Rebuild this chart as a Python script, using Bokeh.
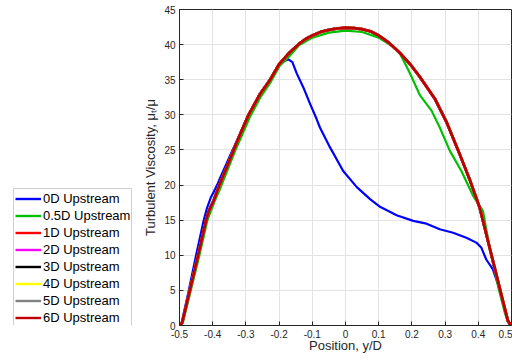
from bokeh.plotting import figure
from bokeh.models import Range1d, FixedTicker, Legend, LegendItem
from bokeh.layouts import row
from bokeh.embed import file_html
from bokeh.resources import INLINE

# ---- data ----
x_ticks = [-0.5, -0.4, -0.3, -0.2, -0.1, 0.0, 0.1, 0.2, 0.3, 0.4, 0.5]
x_tick_labels = ["-0.5", "-0.4", "-0.3", "-0.2", "-0.1", "0", "0.1", "0.2", "0.3", "0.4", "0.5"]
y_ticks = [0, 5, 10, 15, 20, 25, 30, 35, 40, 45]

series_names = ["0D Upstream", "0.5D Upstream", "1D Upstream", "2D Upstream",
                "3D Upstream", "4D Upstream", "5D Upstream", "6D Upstream"]
series_colors = ["#0000FF", "#00C000", "#FF0000", "#FF00FF",
                 "#000000", "#FFFF00", "#808080", "#C00000"]

pos_0d = [-0.5, -0.493, -0.472, -0.45, -0.427, -0.418, -0.412, -0.405, -0.397, -0.385,
          -0.377, -0.34, -0.292, -0.258, -0.228, -0.2, -0.187, -0.172, -0.16, -0.147,
          -0.127, -0.107, -0.087, -0.077, -0.047, -0.007, 0.034, 0.074, 0.104, 0.154,
          0.204, 0.244, 0.284, 0.324, 0.364, 0.394, 0.409, 0.424, 0.444, 0.464, 0.484,
          0.494, 0.5]
visc_0d = [0, 0.5, 5, 10, 15, 16.6, 17.4, 18.3, 19.0, 20.2,
           21.1, 25, 30, 33, 35, 37.2, 37.6, 37.9, 37.5, 35.9,
           33.9, 31.6, 29.4, 28.2, 25.4, 22.0, 19.7, 18.0, 16.9, 15.7,
           14.9, 14.5, 13.7, 13.2, 12.5, 11.8, 11.1, 9.4, 8.0, 5.2, 1.6,
           0.1, 0]

pos_05d = [-0.5, -0.49, -0.466, -0.44, -0.416, -0.395, -0.375, -0.333, -0.288, -0.255,
           -0.225, -0.198, -0.168, -0.14, -0.1, -0.05, 0.0, 0.05, 0.1, 0.14,
           0.164, 0.174, 0.19, 0.204, 0.224, 0.259, 0.284, 0.314, 0.349, 0.384,
           0.414, 0.434, 0.46, 0.48, 0.49, 0.5]
visc_05d = [0, 0.4, 5, 10, 15, 17.6, 19.8, 24.8, 29.7, 32.6,
            34.7, 37.0, 38.4, 39.9, 41.0, 41.7, 42.0, 41.8, 41.0, 39.8,
            38.7, 37.8, 36.3, 34.9, 32.8, 30.6, 28.2, 24.9, 22.0, 18.5,
            16.3, 11.1, 5.5, 1.8, 0.4, 0]

pos_1d_to_6d = [-0.5, -0.492, -0.469, -0.444, -0.42, -0.412, -0.397, -0.38, -0.358, -0.337,
                -0.315, -0.292, -0.257, -0.227, -0.2, -0.185, -0.17, -0.14, -0.12, -0.1,
                -0.075, -0.05, -0.025, 0.0, 0.025, 0.05, 0.075, 0.1, 0.13, 0.164,
                0.195, 0.224, 0.269, 0.304, 0.344, 0.374, 0.404, 0.444,
                0.474, 0.489, 0.497, 0.5]
visc_1d_to_6d = [0, 0.4, 5, 10, 15, 16.3, 17.8, 20, 22.5, 25,
                 27.5, 30, 33, 35, 37.2, 38.0, 38.8, 40.1, 40.8, 41.3,
                 41.8, 42.1, 42.3, 42.4, 42.35, 42.2, 41.9, 41.3, 40.3, 38.8,
                 37.2, 35.4, 32.3, 29.0, 24.4, 20.8, 16.8, 9.2,
                 3.5, 0.7, 0.1, 0]

series_pos = [pos_0d, pos_05d] + [pos_1d_to_6d] * 6
series_visc = [visc_0d, visc_05d] + [visc_1d_to_6d] * 6
series_widths = [2.2, 2.2, 2.6, 2.6, 2.6, 2.6, 2.6, 2.8]

FONT = "Liberation Sans"
TXT = "#262626"

LEG_W = 136
p = figure(width=512 - LEG_W, height=360, output_backend="svg", toolbar_location=None,
           x_range=Range1d(-0.5, 0.5), y_range=Range1d(0, 45),
           min_border_left=179 - LEG_W, min_border_right=1, min_border_top=9,
           min_border_bottom=35)

for name, col, xs, ys, lw in zip(series_names, series_colors, series_pos, series_visc, series_widths):
    p.line(xs, ys, line_color=col, line_width=lw, line_join="round")

p.xaxis.ticker = FixedTicker(ticks=x_ticks)
p.xaxis.major_label_overrides = {t: l for t, l in zip(x_ticks, x_tick_labels)}
p.yaxis.ticker = FixedTicker(ticks=y_ticks)
p.xaxis.axis_label = "Position, y/D"
p.yaxis.axis_label = "Turbulent Viscosity, μₜ/μ"

for ax in (p.xaxis, p.yaxis):
    ax.axis_line_color = TXT
    ax.major_tick_line_color = TXT
    ax.major_tick_in = 4
    ax.major_tick_out = 0
    ax.minor_tick_line_color = None
    ax.major_label_text_font = FONT
    ax.major_label_text_font_size = "10px"
    ax.major_label_text_color = TXT
    ax.axis_label_text_font = FONT
    ax.axis_label_text_font_size = "13px"
    ax.axis_label_text_font_style = "normal"
    ax.axis_label_text_color = TXT
p.xaxis.major_label_standoff = 4
p.yaxis.major_label_standoff = 4
p.xaxis.axis_label_standoff = -3
p.yaxis.axis_label_standoff = 3

p.xgrid.grid_line_color = "#e3e3e3"
p.ygrid.grid_line_color = "#e3e3e3"
p.outline_line_color = TXT
p.outline_line_width = 1
p.background_fill_color = "white"
p.border_fill_color = "white"

# legend panel on the left
lp = figure(width=LEG_W, height=360, output_backend="svg", toolbar_location=None,
            x_range=Range1d(0, 1), y_range=Range1d(0, 1),
            x_axis_location=None, y_axis_location=None,
            min_border_left=0, min_border_right=0, min_border_top=0, min_border_bottom=0)
lp.grid.visible = False
lp.outline_line_color = None
items = []
for name, col in zip(series_names, series_colors):
    # legend swatch only: the line lies outside the visible range
    r = lp.line([5, 6], [5, 6], line_color=col, line_width=2.4)
    items.append(LegendItem(label=name, renderers=[r]))

legend = Legend(items=items, location=(13, -3), orientation="vertical")
legend.label_text_font = FONT
legend.label_text_font_size = "13px"
legend.label_text_color = "#000000"
legend.glyph_width = 26
legend.glyph_height = 17
legend.label_height = 17
legend.label_standoff = 2
legend.spacing = 0
legend.padding = 1
legend.margin = 0
legend.border_line_color = "#a0a0a0"
legend.border_line_width = 1
legend.background_fill_color = "white"
legend.background_fill_alpha = 1
lp.add_layout(legend)

layout = row(lp, p)
open("out.html", "w").write(file_html(layout, INLINE))
